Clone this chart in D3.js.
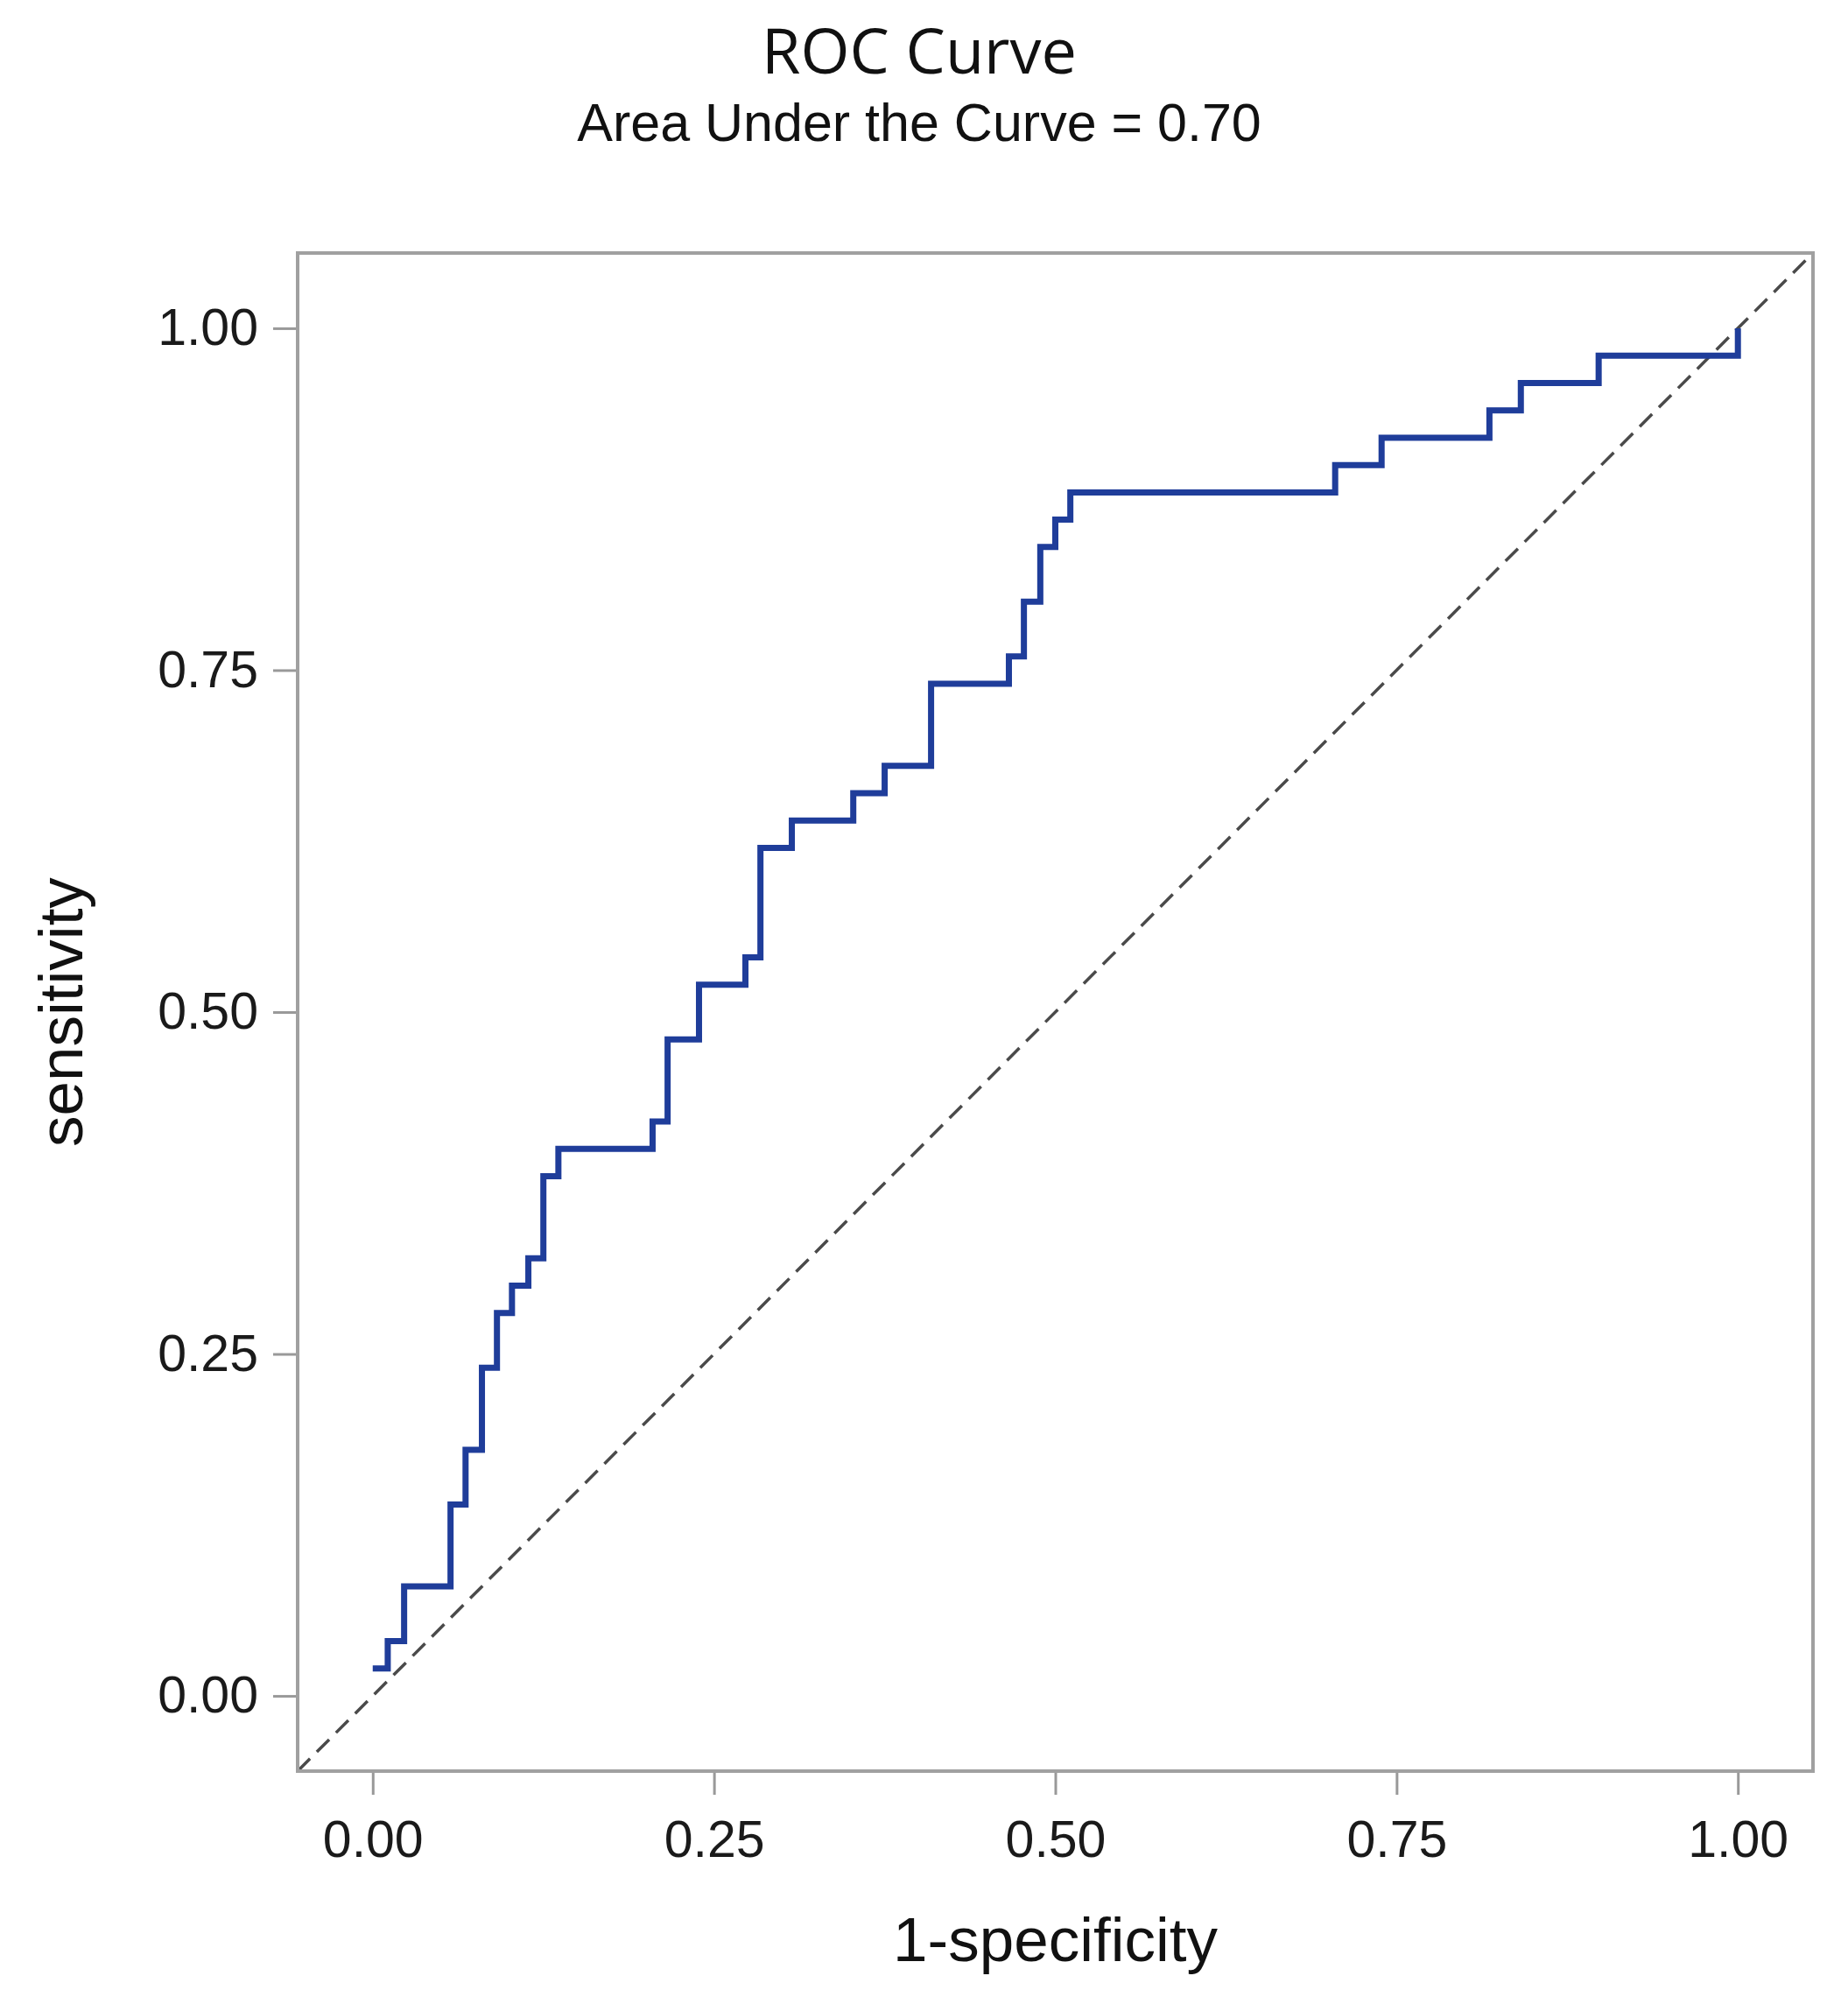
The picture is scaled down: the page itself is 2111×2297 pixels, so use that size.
<!DOCTYPE html>
<html lang="en">
<head>
    <meta charset="UTF-8">
    <title>ROC Curve</title>
    <style>
        body, html {
            margin: 0;
            background-color: #ffffff;
        }
        svg { display: block; }
        .tick text {
            font-family: "Liberation Sans", Arial, sans-serif;
            font-size: 59px;
            fill: #1a1a1a;
        }
        .tick line { stroke: #999; stroke-width: 3; }
    </style>
    <script src="https://d3js.org/d3.v7.min.js"></script>
</head>
<body>
    <div id="chart"></div>
    <script>
        // step points of the ROC curve (1-specificity, sensitivity)
        const fpr = [0, 0.011, 0.023, 0.057, 0.068, 0.080, 0.091, 0.102, 0.114, 0.125, 0.136,
                     0.205, 0.216, 0.239, 0.273, 0.284, 0.307, 0.352, 0.375, 0.409, 0.466,
                     0.477, 0.489, 0.500, 0.511, 0.705, 0.739, 0.818, 0.841, 0.898, 1.0];
        const tpr = [0.02, 0.04, 0.08, 0.14, 0.18, 0.24, 0.28, 0.30, 0.32, 0.38, 0.40,
                     0.42, 0.48, 0.52, 0.54, 0.62, 0.64, 0.66, 0.68, 0.74, 0.76,
                     0.80, 0.84, 0.86, 0.88, 0.90, 0.92, 0.94, 0.96, 0.98, 1.00];
        const tickValues = [0, 0.25, 0.5, 0.75, 1];
        const axisDomain = [-0.055, 1.055];

        const width = 2111, height = 2297;
        const plot = { left: 340, right: 2071, top: 289, bottom: 2023 };

        const svg = d3.select("#chart").append("svg")
            .attr("width", width)
            .attr("height", height);

        const x = d3.scaleLinear().domain(axisDomain).range([plot.left, plot.right]);
        const y = d3.scaleLinear().domain(axisDomain).range([plot.bottom, plot.top]);

        // titles
        svg.append("text")
            .attr("x", 1050).attr("y", 84)
            .attr("text-anchor", "middle")
            .style("font-family", "'Open Sans', sans-serif")
            .style("font-size", "72px")
            .style("fill", "#111")
            .text("ROC Curve");
        svg.append("text")
            .attr("x", 1050).attr("y", 161)
            .attr("text-anchor", "middle")
            .style("font-family", "'Liberation Sans', Arial, sans-serif")
            .style("font-size", "61px")
            .style("fill", "#111")
            .text("Area Under the Curve = 0.70");

        // axes
        svg.append("g")
            .attr("transform", `translate(0,${plot.bottom})`)
            .call(d3.axisBottom(x).tickValues(tickValues).tickFormat(d3.format(".2f"))
                .tickSize(27).tickPadding(29))
            .call(g => g.select(".domain").remove());
        svg.append("g")
            .attr("transform", `translate(${plot.left},0)`)
            .call(d3.axisLeft(y).tickValues(tickValues).tickFormat(d3.format(".2f"))
                .tickSize(28).tickPadding(17))
            .call(g => g.select(".domain").remove());

        // diagonal reference line
        svg.append("line")
            .attr("x1", x(axisDomain[0])).attr("y1", y(axisDomain[0]))
            .attr("x2", x(axisDomain[1])).attr("y2", y(axisDomain[1]))
            .attr("stroke", "#4a4a4a")
            .attr("stroke-width", 3.5)
            .attr("stroke-dasharray", "20,11");

        // ROC step curve
        const pts = fpr.map((d, i) => [d, tpr[i]]);
        const line = d3.line()
            .x(d => x(d[0]))
            .y(d => y(d[1]))
            .curve(d3.curveStepAfter);
        svg.append("path")
            .datum(pts)
            .attr("d", line)
            .attr("fill", "none")
            .attr("stroke", "#1f3d9a")
            .attr("stroke-width", 7);

        // frame
        svg.append("rect")
            .attr("x", plot.left).attr("y", plot.top)
            .attr("width", plot.right - plot.left)
            .attr("height", plot.bottom - plot.top)
            .attr("fill", "none")
            .attr("stroke", "#a0a0a0")
            .attr("stroke-width", 4);

        // axis labels
        svg.append("text")
            .attr("x", (plot.left + plot.right) / 2).attr("y", 2240)
            .attr("text-anchor", "middle")
            .style("font-family", "'Liberation Sans', Arial, sans-serif")
            .style("font-size", "71px")
            .style("fill", "#111")
            .text("1-specificity");
        svg.append("text")
            .attr("transform", `translate(94,${(plot.top + plot.bottom) / 2}) rotate(-90)`)
            .attr("text-anchor", "middle")
            .style("font-family", "'Liberation Sans', Arial, sans-serif")
            .style("font-size", "71px")
            .style("fill", "#111")
            .text("sensitivity");
    </script>
</body>
</html>
